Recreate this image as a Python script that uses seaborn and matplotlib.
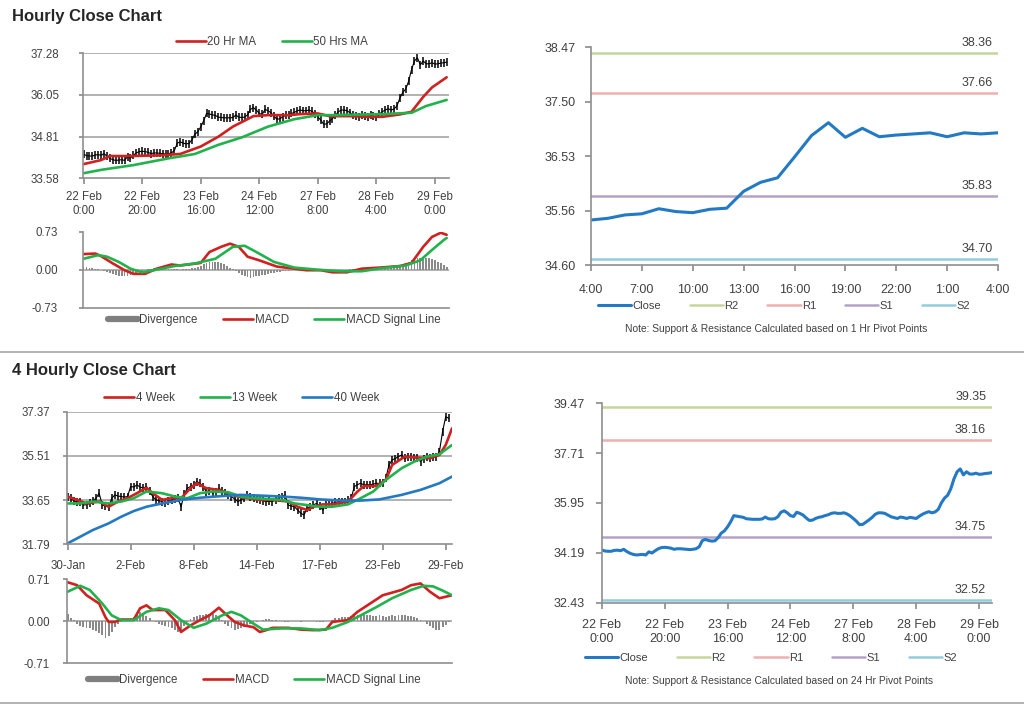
import numpy as np
import matplotlib
matplotlib.use('Agg')
import matplotlib.pyplot as plt
import seaborn as sns
from matplotlib.lines import Line2D

sns.set_theme(style="white")
plt.rcParams['font.family'] = ['Liberation Sans', 'DejaVu Sans']
plt.rcParams['axes.unicode_minus'] = False

# ---------------- data: hourly chart (22 Feb - 29 Feb) ----------------
hourly_ticks = ["22 Feb\n0:00", "22 Feb\n20:00", "23 Feb\n16:00", "24 Feb\n12:00",
                "27 Feb\n8:00", "28 Feb\n4:00", "29 Feb\n0:00"]
hourly_close = [34.29, 34.25, 34.24, 34.24, 34.27, 34.28, 34.26, 34.31, 34.23, 34.17,
                34.13, 34.11, 34.12, 34.13, 34.11, 34.22, 34.18, 34.26, 34.33, 34.37,
                34.38, 34.37, 34.35, 34.31, 34.33, 34.33, 34.32, 34.31, 34.30, 34.31,
                34.33, 34.40, 34.62, 34.66, 34.62, 34.60, 34.61, 34.72, 34.88, 34.96,
                35.10, 35.28, 35.50, 35.48, 35.46, 35.44, 35.39, 35.38, 35.37, 35.37,
                35.37, 35.38, 35.45, 35.39, 35.38, 35.39, 35.46, 35.62, 35.67, 35.60,
                35.50, 35.47, 35.62, 35.58, 35.52, 35.42, 35.33, 35.34, 35.40, 35.44,
                35.46, 35.50, 35.53, 35.58, 35.60, 35.58, 35.58, 35.60, 35.56, 35.49,
                35.40, 35.30, 35.18, 35.19, 35.27, 35.35, 35.44, 35.55, 35.60, 35.60,
                35.58, 35.52, 35.46, 35.43, 35.40, 35.45, 35.43, 35.40, 35.44, 35.42,
                35.40, 35.48, 35.55, 35.60, 35.64, 35.60, 35.63, 35.72, 35.95, 36.12,
                36.22, 36.45, 36.80, 37.05, 37.15, 36.94, 37.05, 36.97, 36.97, 37.00,
                36.96, 36.97, 36.99, 37.00, 37.02]
ma20_x = [0, 6, 9, 17, 26, 33, 40, 46, 51, 58, 63, 70, 74, 80, 84, 91, 97, 102, 108, 112, 116, 119, 124]
ma20_y = [34.00, 34.12, 34.24, 34.24, 34.26, 34.30, 34.52, 34.81, 35.11, 35.42, 35.45, 35.45,
          35.48, 35.50, 35.42, 35.42, 35.40, 35.40, 35.47, 35.55, 35.99, 36.27, 36.57]
ma50_x = [0, 6, 17, 29, 38, 46, 54, 63, 72, 80, 85, 97, 102, 112, 117, 124]
ma50_y = [33.73, 33.83, 33.97, 34.17, 34.30, 34.57, 34.79, 35.11, 35.33, 35.45, 35.45,
          35.47, 35.48, 35.52, 35.72, 35.90]
macd_h_x = [0, 4, 6, 10, 14, 17, 21, 25, 30, 33, 40, 43, 47, 50, 53, 56, 60, 66, 72, 76,
            81, 85, 90, 95, 101, 108, 112, 116, 119, 122, 124]
macd_h_y = [0.30, 0.31, 0.26, 0.12, -0.01, -0.08, -0.08, 0.02, 0.10, 0.08, 0.13, 0.34, 0.44,
            0.50, 0.44, 0.25, 0.18, 0.06, 0.02, -0.01, -0.01, -0.05, -0.05, 0.02, 0.04, 0.07,
            0.13, 0.44, 0.63, 0.71, 0.67]
signal_h_x = [0, 5, 8, 12, 16, 20, 24, 31, 38, 45, 51, 55, 59, 65, 72, 80, 88, 95, 102,
              110, 115, 119, 123, 124]
signal_h_y = [0.21, 0.28, 0.25, 0.15, 0.02, -0.05, -0.01, 0.07, 0.12, 0.21, 0.44, 0.46, 0.34,
              0.15, 0.04, 0.00, -0.03, -0.03, 0.03, 0.08, 0.18, 0.38, 0.57, 0.61]
div_h = [0.05, 0.05, 0.04, 0.03, 0.02, 0.01, -0.01, -0.02, -0.04, -0.06,
         -0.08, -0.10, -0.12, -0.13, -0.13, -0.12, -0.10, -0.08, -0.06, -0.04,
         -0.02, 0.00, 0.01, 0.02, 0.03, 0.03, 0.03, 0.03, 0.02, 0.02,
         0.01, 0.01, 0.01, 0.00, 0.01, 0.01, 0.02, 0.03, 0.04, 0.06,
         0.08, 0.11, 0.13, 0.14, 0.15, 0.15, 0.14, 0.12, 0.10, 0.07,
         0.04, 0.01, -0.03, -0.07, -0.10, -0.12, -0.14, -0.15, -0.14, -0.13,
         -0.12, -0.11, -0.10, -0.08, -0.07, -0.06, -0.05, -0.04, -0.03, -0.02,
         -0.02, -0.01, -0.01, 0.00, 0.00, 0.00, 0.00, 0.00, -0.01, -0.01,
         -0.01, -0.02, -0.02, -0.02, -0.02, -0.02, -0.02, -0.01, -0.01, -0.01,
         0.00, 0.01, 0.01, 0.02, 0.02, 0.02, 0.02, 0.01, 0.01, 0.01,
         0.01, 0.01, 0.02, 0.02, 0.02, 0.03, 0.04, 0.06, 0.08, 0.10,
         0.12, 0.15, 0.18, 0.20, 0.22, 0.23, 0.24, 0.23, 0.22, 0.20,
         0.18, 0.15, 0.12, 0.09, 0.06]

# ---------------- data: 1 hr pivot chart ----------------
pivot1_ticks = ["4:00", "7:00", "10:00", "13:00", "16:00", "19:00", "22:00", "1:00", "4:00"]
pivot1_close = [35.40, 35.43, 35.49, 35.51, 35.60, 35.55, 35.53, 35.59, 35.61, 35.91,
                36.07, 36.15, 36.52, 36.90, 37.13, 36.87, 37.03, 36.88, 36.91, 36.93,
                36.95, 36.88, 36.95, 36.93, 36.95]
pivot1_names = ["R2", "R1", "S1", "S2"]
pivot1_levels = [38.36, 37.66, 35.83, 34.70]

# ---------------- data: 4 hourly chart (30 Jan - 29 Feb) ----------------
four_h_ticks = ["30-Jan", "2-Feb", "8-Feb", "14-Feb", "17-Feb", "23-Feb", "29-Feb"]
four_h_close = [33.80, 33.72, 33.62, 33.58, 33.55, 33.44, 33.46, 33.51, 33.60, 33.73,
                33.94, 33.44, 33.40, 33.37, 33.73, 33.87, 33.82, 33.80, 33.78, 33.80,
                34.22, 34.20, 34.29, 34.20, 34.15, 34.22, 34.05, 33.80, 33.66, 33.62,
                33.59, 33.51, 33.60, 33.66, 33.70, 33.73, 33.37, 33.90, 34.15, 34.22,
                34.29, 34.43, 34.35, 34.22, 34.01, 34.05, 33.94, 34.00, 34.15, 34.05,
                33.94, 33.85, 33.80, 33.70, 33.59, 33.65, 33.73, 33.87, 33.80, 33.73,
                33.70, 33.66, 33.62, 33.59, 33.60, 33.59, 33.65, 33.73, 33.80, 33.87,
                33.44, 33.40, 33.37, 33.23, 33.10, 33.02, 33.30, 33.37, 33.45, 33.51,
                33.40, 33.23, 33.44, 33.48, 33.51, 33.55, 33.59, 33.58, 33.59, 33.65,
                33.73, 34.22, 34.30, 34.36, 34.29, 34.30, 34.29, 34.32, 34.36, 34.35,
                34.36, 34.57, 35.13, 35.34, 35.40, 35.48, 35.55, 35.41, 35.45, 35.48,
                35.44, 35.41, 35.27, 35.40, 35.48, 35.41, 35.45, 35.48, 35.69, 36.53,
                37.16, 37.09]
wk4_x = [0, 3, 6, 10, 13, 16, 19, 22, 25, 27, 30, 33, 36, 39, 41, 44, 48, 51, 54, 57, 61,
         65, 70, 73, 76, 78, 81, 84, 89, 92, 94, 98, 101, 103, 107, 111, 115, 118, 120, 122]
wk4_y = [33.80, 33.66, 33.51, 33.59, 33.37, 33.59, 33.73, 33.94, 34.17, 33.94, 33.66, 33.73,
         33.73, 34.15, 34.36, 34.15, 34.08, 33.94, 33.80, 33.73, 33.66, 33.66, 33.59, 33.37,
         33.23, 33.37, 33.47, 33.47, 33.59, 34.01, 34.24, 34.24, 34.50, 35.13, 35.48, 35.44,
         35.41, 35.55, 35.97, 36.67]
wk13_x = [0, 4, 8, 13, 17, 21, 25, 30, 34, 38, 42, 46, 51, 55, 59, 63, 68, 72, 76, 80, 84,
          89, 93, 97, 101, 106, 110, 114, 118, 122]
wk13_y = [33.51, 33.51, 33.59, 33.51, 33.59, 33.73, 34.01, 33.94, 33.80, 33.73, 33.94, 34.01,
          33.98, 33.80, 33.73, 33.70, 33.66, 33.51, 33.44, 33.37, 33.37, 33.47, 33.73, 34.01,
          34.50, 34.99, 35.27, 35.48, 35.58, 35.97]
wk40_x = [0, 4, 8, 13, 17, 21, 25, 30, 36, 42, 49, 55, 61, 68, 74, 80, 87, 93, 99, 106, 112, 118, 122]
wk40_y = [31.83, 32.11, 32.39, 32.67, 32.95, 33.19, 33.37, 33.51, 33.66, 33.75, 33.82, 33.87,
          33.84, 33.80, 33.75, 33.68, 33.63, 33.63, 33.68, 33.87, 34.08, 34.36, 34.64]
macd_4h_x = [0, 3, 6, 10, 12, 13, 15, 17, 21, 23, 25, 27, 31, 34, 36, 39, 42, 45, 48, 50,
             53, 56, 59, 61, 63, 65, 70, 74, 78, 82, 84, 89, 92, 96, 100, 106, 109, 112,
             115, 118, 122]
macd_4h_y = [0.66, 0.61, 0.44, 0.30, 0.07, -0.01, -0.01, 0.03, 0.03, 0.22, 0.27, 0.19, 0.19,
             0.02, -0.18, -0.07, 0.02, 0.10, 0.23, 0.13, -0.01, -0.07, -0.10, -0.18, -0.15,
             -0.11, -0.11, -0.14, -0.15, -0.14, -0.01, 0.02, 0.16, 0.30, 0.44, 0.53, 0.61,
             0.64, 0.50, 0.39, 0.44]
signal_4h_x = [0, 4, 7, 11, 14, 17, 21, 25, 29, 32, 36, 40, 44, 49, 52, 55, 59, 62, 68, 74,
               80, 84, 89, 93, 98, 103, 109, 113, 116, 119, 122]
signal_4h_y = [0.50, 0.60, 0.53, 0.30, 0.10, 0.02, 0.02, 0.16, 0.22, 0.19, 0.02, -0.11, -0.04,
               0.10, 0.16, 0.10, -0.04, -0.14, -0.12, -0.12, -0.15, -0.11, -0.01, 0.10, 0.24,
               0.39, 0.53, 0.60, 0.59, 0.52, 0.44]
div_4h = [0.12, 0.06, 0.02, -0.05, -0.08, -0.10, -0.11, -0.12, -0.14, -0.16,
          -0.20, -0.24, -0.28, -0.25, -0.18, -0.10, -0.04, -0.01, 0.01, 0.02,
          0.04, 0.08, 0.12, 0.15, 0.13, 0.09, 0.05, 0.01, -0.02, -0.04,
          -0.06, -0.08, -0.10, -0.12, -0.15, -0.18, -0.14, -0.08, -0.02, 0.04,
          0.07, 0.09, 0.10, 0.11, 0.12, 0.13, 0.12, 0.10, 0.06, 0.02,
          -0.04, -0.08, -0.12, -0.14, -0.13, -0.11, -0.09, -0.07, -0.05, -0.03,
          -0.01, 0.01, 0.03, 0.04, 0.04, 0.03, 0.02, 0.01, 0.00, -0.01,
          -0.01, 0.00, 0.01, 0.00, -0.01, 0.00, 0.01, 0.00, 0.00, -0.01,
          -0.02, -0.01, 0.00, 0.01, 0.03, 0.05, 0.06, 0.07, 0.08, 0.08,
          0.09, 0.10, 0.10, 0.09, 0.10, 0.11, 0.10, 0.09, 0.09, 0.10,
          0.09, 0.08, 0.09, 0.10, 0.09, 0.10, 0.11, 0.10, 0.09, 0.09,
          0.08, 0.06, 0.03, 0.00, -0.04, -0.08, -0.12, -0.15, -0.14, -0.10,
          -0.06, -0.02]

# ---------------- data: 24 hr pivot chart ----------------
pivot24_names = ["R2", "R1", "S1", "S2"]
pivot24_levels = [39.35, 38.16, 34.75, 32.52]

# ---------------- styling ----------------
RED = '#d0201f'
GREEN = '#22b24c'
BLUE = '#2479c4'
GRAY = '#8a8a8a'
SPINE = '#8f8f8f'
TXT = '#404040'
LEVEL_COLORS = ['#c4d79b', '#eeb0b0', '#b3a2c7', '#93cddd']

W, H = 1024, 706


def px_axes(fig, left, top, right, bottom):
    return fig.add_axes([left / W, 1 - bottom / H, (right - left) / W, (bottom - top) / H])


def base_style(ax, fs, ypad):
    ax.set_facecolor('white')
    for s in ['top', 'right']:
        ax.spines[s].set_visible(False)
    for s in ['left', 'bottom']:
        ax.spines[s].set_color(SPINE)
        ax.spines[s].set_linewidth(1.2)
    ax.tick_params(axis='y', which='both', left=True, length=3, color=SPINE,
                   labelsize=fs, labelcolor=TXT, pad=ypad)
    ax.grid(False)


def line(ax, x, y, color, lw, **kw):
    sns.lineplot(x=x, y=y, ax=ax, color=color, linewidth=lw, legend=False,
                 sort=False, estimator=None, **kw)


def draw_price(ax, close, ma_list, ylim, yticks, xticks_lbl, step, xmax, fs, ypad, xpad,
               leg_xy, leg_ncol):
    base_style(ax, fs, ypad)
    for t in yticks[1:]:
        ax.axhline(t, color='#9c9c9c', lw=1.1, zorder=0)
    idx = np.arange(len(close))
    # close bars drawn as vertical tick markers on a thin black line
    line(ax, idx, close, 'black', 0.8, marker='|', markersize=6,
         markeredgewidth=1.1, markeredgecolor='black')
    handles = []
    for x, y, c, lab in ma_list:
        line(ax, x, y, c, 1.9)
        handles.append(Line2D([0], [0], color=c, lw=1.9, label=lab))
    ax.set_ylim(*ylim)
    ax.set_yticks(yticks)
    ax.set_yticklabels([f"{v:.2f}" for v in yticks])
    ax.set_xlim(-0.3, xmax)
    ax.set_xticks(np.arange(len(xticks_lbl)) * step)
    ax.set_xticklabels(xticks_lbl)
    ax.tick_params(axis='x', bottom=True, length=4, color=SPINE, labelsize=fs,
                   labelcolor=TXT, pad=xpad)
    ax.set_xlabel('')
    ax.set_ylabel('')
    ax.legend(handles=handles, loc='center', bbox_to_anchor=leg_xy, ncol=leg_ncol,
              frameon=False, fontsize=fs, handlelength=2.6, handletextpad=0.15,
              columnspacing=2.2, labelcolor=TXT)


def draw_macd(ax, div, mx, my, sx, sy, lim, xmax, fs, ypad, leg_xy):
    base_style(ax, fs, ypad)
    ax.axhline(0, color='#9c9c9c', lw=1.1, zorder=0)
    ax.bar(np.arange(len(div)), div, width=0.6, color=GRAY, linewidth=0, zorder=1)
    line(ax, mx, my, RED, 1.9)
    line(ax, sx, sy, GREEN, 1.9)
    ax.set_ylim(-lim, lim)
    ax.set_yticks([-lim, 0, lim])
    ax.set_yticklabels([f"{-lim:.2f}", "0.00", f"{lim:.2f}"])
    ax.set_xlim(-0.3, xmax)
    ax.set_xticks([])
    ax.set_xlabel('')
    ax.set_ylabel('')
    handles = [Line2D([0], [0], color='#7f7f7f', lw=4.5, label='Divergence'),
               Line2D([0], [0], color=RED, lw=1.9, label='MACD'),
               Line2D([0], [0], color=GREEN, lw=1.9, label='MACD Signal Line')]
    ax.legend(handles=handles, loc='center', bbox_to_anchor=leg_xy, ncol=3,
              frameon=False, fontsize=fs, handlelength=2.6, handletextpad=0.15,
              columnspacing=2.2, labelcolor=TXT)


def draw_pivot(ax, close, names, levels, ylim, yticks, xticks_pos, xticks_lbl, xlim, fs,
               ypad, xpad, leg_xy, note, note_y):
    base_style(ax, fs, ypad)
    ax.tick_params(axis='y', length=4)
    handles = []
    line(ax, np.arange(len(close)), close, BLUE, 2.2)
    handles.append(Line2D([0], [0], color=BLUE, lw=2.2, label='Close'))
    for n, lv, c in zip(names, levels, LEVEL_COLORS):
        ax.axhline(lv, color=c, lw=1.8, zorder=1)
        handles.append(Line2D([0], [0], color=c, lw=1.8, label=n))
        ax.annotate(f"{lv:.2f}", xy=(1, lv), xycoords=('axes fraction', 'data'),
                    xytext=(-4, 3), textcoords='offset points', ha='right', va='bottom',
                    fontsize=fs, color=TXT)
    ax.set_ylim(*ylim)
    ax.set_yticks(yticks)
    ax.set_yticklabels([f"{v:.2f}" for v in yticks])
    ax.set_xlim(*xlim)
    ax.set_xticks(xticks_pos)
    ax.set_xticklabels(xticks_lbl)
    ax.tick_params(axis='x', bottom=True, length=4, color=SPINE, labelsize=fs,
                   labelcolor=TXT, pad=xpad)
    ax.set_xlabel('')
    ax.set_ylabel('')
    ax.legend(handles=handles, loc='center', bbox_to_anchor=leg_xy, ncol=5,
              frameon=False, fontsize=fs - 1.0, handlelength=3.0, handletextpad=0.1,
              columnspacing=2.6, labelcolor=TXT)
    ax.text(0.455, note_y, note, transform=ax.transAxes, ha='center', va='center',
            fontsize=fs - 1.6, color=TXT)


fig = plt.figure(figsize=(W / 100, H / 100), dpi=100)
fig.patch.set_facecolor('white')

fig.text(12 / W, 1 - 16 / H, "Hourly Close Chart", fontsize=12, fontweight='bold',
         color='#262626', va='center', ha='left')
fig.text(12 / W, 1 - 370 / H, "4 Hourly Close Chart", fontsize=12, fontweight='bold',
         color='#262626', va='center', ha='left')

# hourly price
ax1 = px_axes(fig, 82.7, 53.3, 449.3, 178.3)
draw_price(ax1, hourly_close,
           [(ma20_x, ma20_y, RED, '20 Hr MA'), (ma50_x, ma50_y, GREEN, '50 Hrs MA')],
           (33.58, 37.28), [33.58, 34.81, 36.05, 37.28], hourly_ticks, 20, 124.9,
           8.3, 14, 5, (0.516, 1.09), 2)

# hourly MACD
ax2 = px_axes(fig, 82.7, 231.7, 449.3, 307.7)
draw_macd(ax2, div_h, macd_h_x, macd_h_y, signal_h_x, signal_h_y, 0.73, 124.9,
          8.3, 15, (0.522, -0.165))

# 1 hr pivot
ax3 = px_axes(fig, 591, 47.3, 998, 265)
yt1 = [34.60, 35.56, 36.53, 37.50, 38.47]
draw_pivot(ax3, pivot1_close, pivot1_names, pivot1_levels, (34.60, 38.47), yt1,
           np.arange(0, 25, 3), pivot1_ticks, (0, 24), 9, 7, 10, (0.474, -0.188),
           "Note: Support & Resistance Calculated based on 1 Hr Pivot Points", -0.294)

# 4 hourly price
ax4 = px_axes(fig, 66.7, 411.7, 451.7, 544.3)
draw_price(ax4, four_h_close,
           [(wk4_x, wk4_y, RED, '4 Week'), (wk13_x, wk13_y, GREEN, '13 Week'),
            (wk40_x, wk40_y, BLUE, '40 Week')],
           (31.79, 37.37), [31.79, 33.65, 35.51, 37.37], four_h_ticks, 20, 121.9,
           8.3, 9, 7, (0.455, 1.106), 3)

# 4 hourly MACD
ax5 = px_axes(fig, 66.7, 579.3, 451.7, 663.3)
draw_macd(ax5, div_4h, macd_4h_x, macd_4h_y, signal_4h_x, signal_4h_y, 0.71, 121.9,
          8.3, 9, (0.487, -0.2))

# 24 hr pivot
ax6 = px_axes(fig, 601.7, 403.3, 991.7, 602.5)
yt2 = [32.43, 34.19, 35.95, 37.71, 39.47]
draw_pivot(ax6, hourly_close, pivot24_names, pivot24_levels, (32.43, 39.47), yt2,
           np.arange(0, 121, 20), hourly_ticks, (0, 124), 9, 8, 8, (0.434, -0.279),
           "Note: Support & Resistance Calculated based on 24 Hr Pivot Points", -0.394)

# section separators
for ypx in [352, 703]:
    fig.add_artist(Line2D([0, 1], [1 - ypx / H, 1 - ypx / H], transform=fig.transFigure,
                          color='#a6a6a6', lw=1.2))

fig.savefig('out.png', dpi=100, facecolor='white')
